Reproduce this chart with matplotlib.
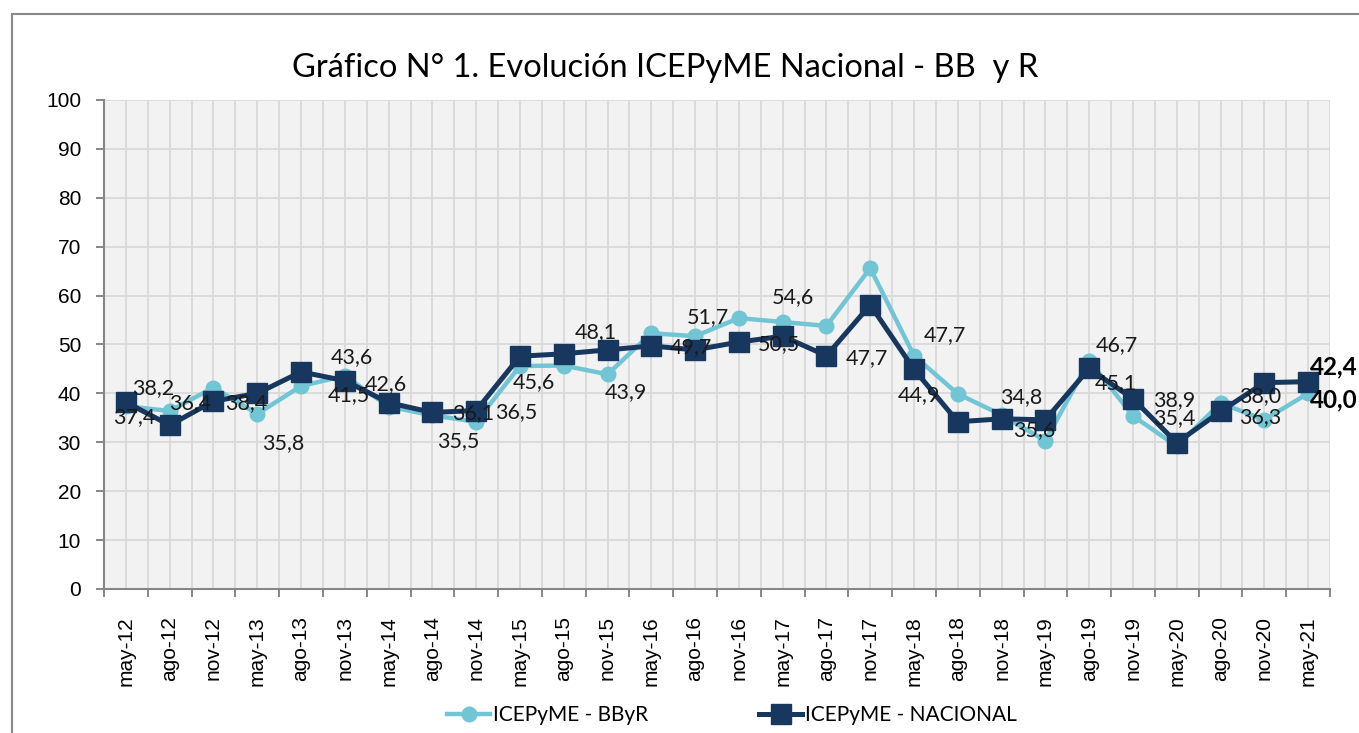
import matplotlib
matplotlib.use("Agg")
import matplotlib.pyplot as plt
from matplotlib.patches import Rectangle
from matplotlib.lines import Line2D

# ---------------- data ----------------
categories = ["may-12", "ago-12", "nov-12", "may-13", "ago-13", "nov-13", "may-14", "ago-14",
              "nov-14", "may-15", "ago-15", "nov-15", "may-16", "ago-16", "nov-16", "may-17",
              "ago-17", "nov-17", "may-18", "ago-18", "nov-18", "may-19", "ago-19", "nov-19",
              "may-20", "ago-20", "nov-20", "may-21"]

bbyr = [37.4, 36.4, 41.2, 35.8, 41.5, 43.6, 37.3, 35.5, 34.2, 45.6, 45.7, 43.9, 52.3, 51.7,
        55.4, 54.6, 53.8, 65.6, 47.7, 39.9, 35.6, 30.3, 46.7, 35.4, 29.2, 38.0, 34.6, 40.0]

nacional = [38.2, 33.5, 38.4, 40.0, 44.4, 42.6, 38.1, 36.1, 36.5, 47.6, 48.1, 48.9, 49.7, 48.9,
            50.5, 51.7, 47.7, 58.1, 44.9, 34.2, 34.8, 34.6, 45.1, 38.9, 29.9, 36.3, 42.2, 42.4]

series_names = ["ICEPyME - BByR", "ICEPyME - NACIONAL"]
yticks = [0, 10, 20, 30, 40, 50, 60, 70, 80, 90, 100]

# data labels: (series, category index, dx px, dy px, bold)
label_layout = [
    ("N", 0, 27, 14, False), ("B", 0, 8, -11, False), ("B", 1, 21, 8, False),
    ("N", 2, 33, -2, False), ("B", 3, 26, -29, False), ("B", 4, 48, -9, False),
    ("B", 5, 7, 19, False), ("N", 5, 41, -3, False), ("N", 7, 41, -1, False),
    ("B", 7, 26, -26, False), ("N", 8, 40, -2, False), ("B", 9, 14, -16, False),
    ("N", 10, 32, 22, False), ("B", 11, 18, -18, False), ("N", 12, 40, -1, False),
    ("B", 13, 13, 19, False), ("N", 14, 40, -2, False), ("B", 15, 10, 25, False),
    ("N", 16, 40, -2, False), ("B", 18, 31, 21, False), ("N", 18, 5, -26, False),
    ("N", 20, 20, 22, False), ("B", 20, 33, -15, False), ("B", 22, 28, 16, False),
    ("N", 22, 27, -15, False), ("N", 23, 41, -1, False), ("B", 23, 41, -2, False),
    ("B", 25, 40, 7, False), ("N", 25, 40, -6, False),
    ("N", 27, 2, 15, True), ("B", 27, 2, -7, True),
]

# ---------------- style ----------------
W, H = 1359, 733
LIGHT = "#72c5d4"
DARK = "#17375e"
GRID = "#d9d9d9"
AXIS = "#868686"
LABEL_FONT = ["Lato", "DejaVu Sans"]
TICK_FONT = ["Liberation Sans", "DejaVu Sans"]

fig = plt.figure(figsize=(W / 100, H / 100), dpi=100)
fig.patch.set_facecolor("white")

# outer chart frame
fig.add_artist(Rectangle((12 / W, -0.05), 1.2, 1 - 14 / H + 0.05, transform=fig.transFigure,
                         fill=False, edgecolor="#8a8a8a", linewidth=1.5))

ax = fig.add_axes([104 / W, (H - 589) / H, 1226 / W, 489 / H])
ax.set_facecolor("#f2f2f2")

x = list(range(len(categories)))
ax.plot(x, bbyr, color=LIGHT, lw=3.2, marker="o", ms=10.5, zorder=3,
        label=series_names[0], solid_joinstyle="round")
ax.plot(x, nacional, color=DARK, lw=3.6, marker="s", ms=14, zorder=4,
        label=series_names[1], solid_joinstyle="round")

ax.set_xlim(-0.5, len(categories) - 0.5)
ax.set_ylim(0, 100)
ax.set_yticks(yticks)
ax.set_xticks(x)
ax.set_xticklabels(categories, rotation=90, fontfamily=TICK_FONT, fontsize=15)
ax.set_xticks([i - 0.5 for i in range(len(categories) + 1)], minor=True)
ax.tick_params(axis="x", which="major", length=0, pad=19.5)
ax.tick_params(axis="x", which="minor", length=5.5, width=1.4, color=AXIS, direction="out")
ax.tick_params(axis="y", length=5.5, width=1.4, color=AXIS, direction="out", pad=11)
for t in ax.get_yticklabels():
    t.set_fontfamily(TICK_FONT)
    t.set_fontsize(15)

ax.grid(True, which="both", axis="x", color=GRID, lw=1.3, zorder=0)
ax.grid(True, which="major", axis="y", color=GRID, lw=1.3, zorder=0)
ax.set_axisbelow(True)
for s in ["top", "right"]:
    ax.spines[s].set_visible(False)
for s in ["left", "bottom"]:
    ax.spines[s].set_color(AXIS)
    ax.spines[s].set_linewidth(1.5)

# data labels
vals = {"B": bbyr, "N": nacional}
for key, i, dx, dy, bold in label_layout:
    v = vals[key][i]
    txt = f"{v:.1f}".replace(".", ",")
    if bold:
        ax.annotate(txt, (i, v), xytext=(dx, dy), textcoords="offset pixels",
                    ha="left", va="center", fontsize=17.5, fontweight="bold",
                    fontfamily=LABEL_FONT, color="#000000", zorder=6, annotation_clip=False)
    else:
        ax.annotate(txt, (i, v), xytext=(dx, dy), textcoords="offset pixels",
                    ha="center", va="center", fontsize=15.5,
                    fontfamily=LABEL_FONT, color="#1a1a1a", zorder=6)

# title
fig.text(665 / W, 1 - 77 / H, "Gráfico N° 1. Evolución ICEPyME Nacional - BB  y R",
         ha="center", va="baseline", fontsize=23.5, fontfamily=LABEL_FONT, color="#000000")

# legend
handles = [Line2D([], [], color=LIGHT, lw=3.2, marker="o", ms=10.5),
           Line2D([], [], color=DARK, lw=3.6, marker="s", ms=14)]
fig.legend(handles, series_names, loc="center", bbox_to_anchor=(732 / W, 1 - 715 / H),
           ncol=2, frameon=False, prop={"family": LABEL_FONT, "size": 15},
           handlelength=2.06, handletextpad=0.12, columnspacing=5.36)

fig.savefig("out.png", dpi=100, facecolor="white")
